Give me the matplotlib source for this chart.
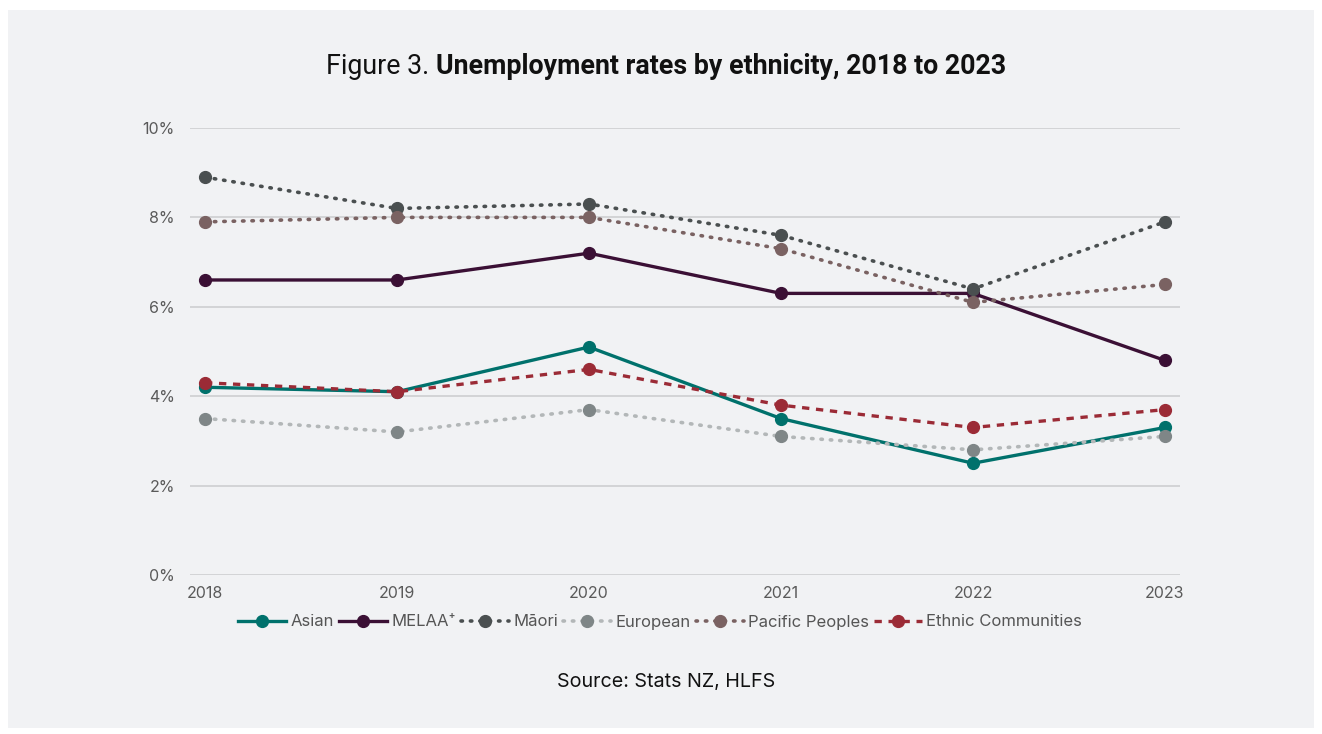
import matplotlib
matplotlib.use("Agg")
import matplotlib.pyplot as plt
from matplotlib.patches import Rectangle
from matplotlib.ticker import FuncFormatter

years = [2018, 2019, 2020, 2021, 2022, 2023]
asian = [4.2, 4.1, 5.1, 3.5, 2.5, 3.3]
melaa = [6.6, 6.6, 7.2, 6.3, 6.3, 4.8]
maori = [8.9, 8.2, 8.3, 7.6, 6.4, 7.9]
european = [3.5, 3.2, 3.7, 3.1, 2.8, 3.1]
pacific = [7.9, 8.0, 8.0, 7.3, 6.1, 6.5]
ethnic = [4.3, 4.1, 4.6, 3.8, 3.3, 3.7]
y_ticks = [0, 2, 4, 6, 8, 10]

fig = plt.figure(figsize=(13.22, 7.34), dpi=100)
fig.patch.set_facecolor("white")
fig.add_artist(Rectangle((8 / 1322, 6 / 734), 1306 / 1322, 718 / 734,
                         transform=fig.transFigure, facecolor="#f1f2f4",
                         edgecolor="none", zorder=0))

ax = fig.add_axes([190 / 1322, 159 / 734, 990 / 1322, 447 / 734])
ax.set_facecolor("none")

dotted = (0, (0.4, 2.2))
series = [
    ("Asian", asian, "#00716c", "#00716c", "-", 2.4),
    ("MELAA\u207a", melaa, "#3b1035", "#3b1035", "-", 2.4),
    ("M\u0101ori", maori, "#4a4f50", "#4a4f50", dotted, 2.6),
    ("European", european, "#b3b7b8", "#7f8687", dotted, 2.6),
    ("Pacific Peoples", pacific, "#7a6262", "#7a6262", dotted, 2.6),
    ("Ethnic Communities", ethnic, "#9b2b36", "#9b2b36", (0, (2.2, 2.0)), 2.4),
]

for name, vals, lc, mc, ls, lw in series:
    ax.plot(years, vals, color=lc, linestyle=ls, linewidth=lw,
            dash_capstyle="round" if ls == dotted else "butt",
            marker="o", markersize=8.5, markerfacecolor=mc,
            markeredgecolor=mc, label=name, zorder=3)

ax.set_xlim(2018 - 15 / 192, 2023 + 15 / 192)
ax.set_ylim(0, 10)
ax.set_yticks(y_ticks)
ax.yaxis.set_major_formatter(FuncFormatter(lambda v, p: f"{v:.0f}%"))
ax.set_xticks(years)
ax.grid(axis="y", color="#d3d4d6", linewidth=1.4, zorder=1)
ax.set_axisbelow(True)
for s in ax.spines.values():
    s.set_visible(False)
ax.tick_params(length=0, labelsize=11.5, labelcolor="#5a5a5a")
ax.tick_params(axis="y", pad=11)
ax.tick_params(axis="x", pad=8)
for lab in ax.get_xticklabels() + ax.get_yticklabels():
    lab.set_fontfamily("Inter")

# Title: regular prefix followed by a bold heading, centred as one line
t1 = fig.text(0, 0, "Figure 3. ", fontsize=19.3, family="Roboto",
              color="#111111", va="center")
t2 = fig.text(0, 0, "Unemployment rates by ethnicity, 2018 to 2023",
              fontsize=19.3, family="Roboto", weight="bold",
              color="#111111", va="center")
fig.canvas.draw()
r = fig.canvas.get_renderer()
w1 = t1.get_window_extent(r).width
w2 = t2.get_window_extent(r).width
x0 = 666 - (w1 + w2) / 2
ty = 734 - 67
t1.set_position((x0 / 1322, ty / 734))
t2.set_position(((x0 + w1) / 1322, ty / 734))

leg = ax.legend(loc="center", bbox_to_anchor=(660 / 1322, 1 - 622 / 734),
                bbox_transform=fig.transFigure, ncol=6, frameon=False,
                handlelength=2.9, handletextpad=0.25, columnspacing=0.3,
                prop={"family": "Inter", "size": 12.0})
for txt in leg.get_texts():
    txt.set_color("#555555")

fig.text(666 / 1322, 1 - 682 / 734, "Source: Stats NZ, HLFS", ha="center",
         va="center", fontsize=14.2, family="Inter", color="#111111")

fig.savefig("out.png", dpi=100, facecolor=fig.get_facecolor())
